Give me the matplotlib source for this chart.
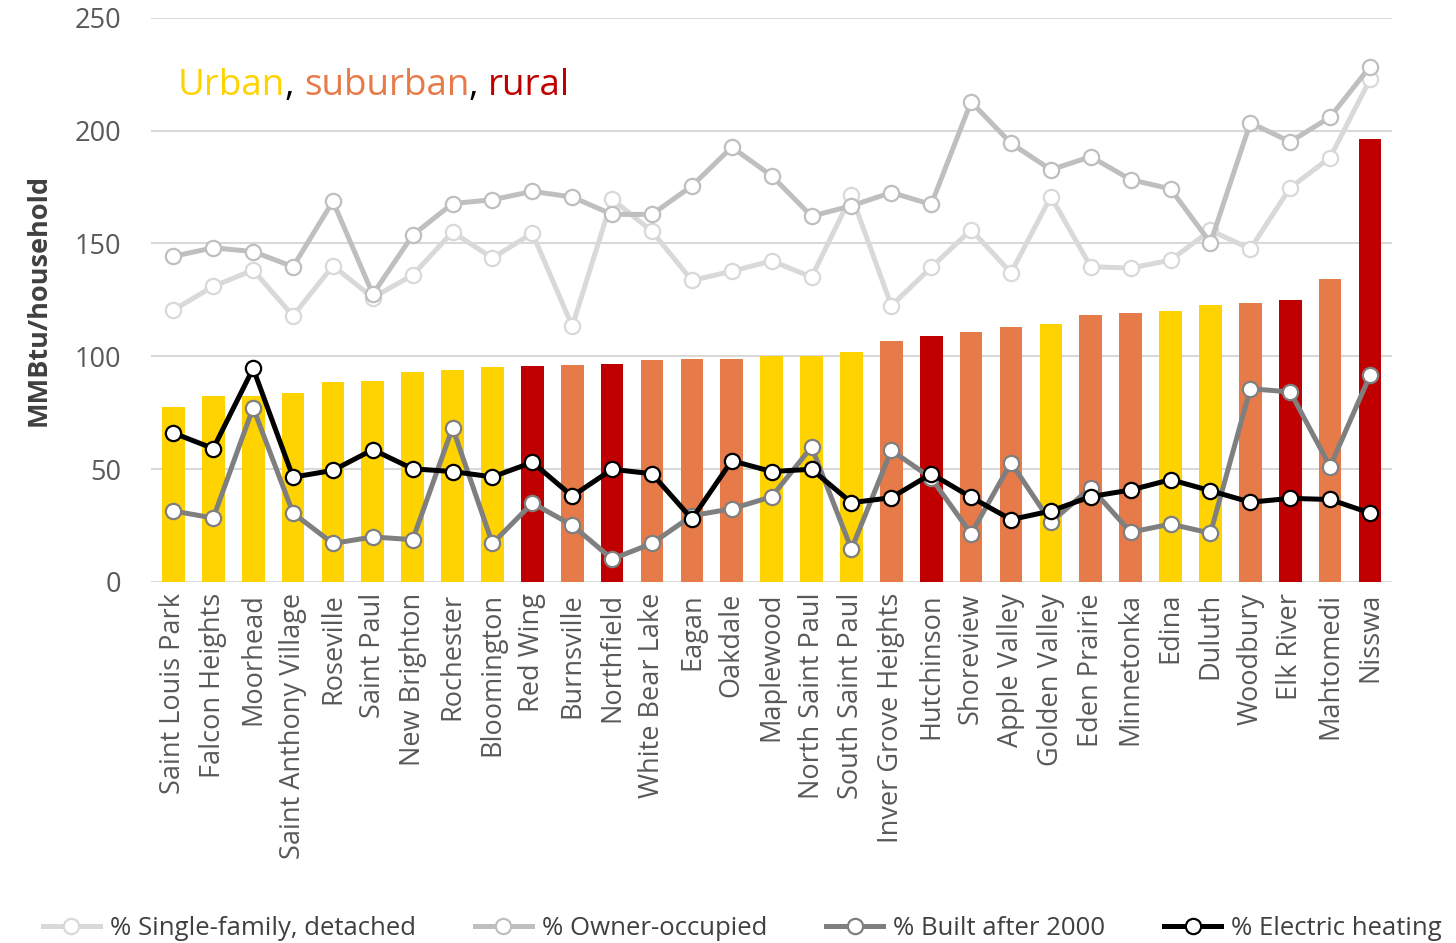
import matplotlib.pyplot as plt
import numpy as np

cities = ["Saint Louis Park", "Falcon Heights", "Moorhead", "Saint Anthony Village",
          "Roseville", "Saint Paul", "New Brighton", "Rochester", "Bloomington",
          "Red Wing", "Burnsville", "Northfield", "White Bear Lake", "Eagan", "Oakdale",
          "Maplewood", "North Saint Paul", "South Saint Paul", "Inver Grove Heights",
          "Hutchinson", "Shoreview", "Apple Valley", "Golden Valley", "Eden Prairie",
          "Minnetonka", "Edina", "Duluth", "Woodbury", "Elk River", "Mahtomedi", "Nisswa"]

# U = urban, S = suburban, R = rural
area_type = ["U", "U", "U", "U", "U", "U", "U", "U", "U", "R", "S", "R", "S", "S", "S",
             "U", "U", "U", "S", "R", "S", "S", "U", "S", "S", "U", "U", "S", "R", "S", "R"]

energy = [77.7, 82.3, 82.6, 83.7, 88.4, 89.1, 92.9, 94.1, 95.1, 95.9, 96.0, 96.5, 98.2,
          99.0, 99.0, 100.2, 100.2, 101.9, 106.7, 109.2, 110.6, 112.8, 114.5, 118.3,
          119.1, 120.1, 122.9, 123.6, 124.9, 134.3, 196.1]

single_family = [120.5, 131.0, 138.2, 117.9, 140.1, 126.0, 136.0, 155.1, 143.5, 154.6,
                 113.3, 169.6, 155.4, 133.6, 137.7, 142.3, 135.1, 171.3, 122.4, 139.4,
                 156.1, 137.0, 170.8, 139.7, 139.1, 142.6, 155.8, 147.6, 174.7, 188.1, 222.7]

owner_occupied = [144.3, 148.1, 146.4, 139.7, 168.7, 127.5, 153.7, 167.7, 169.4, 173.1,
                  170.6, 162.9, 162.9, 175.5, 192.7, 180.0, 162.1, 166.7, 172.6, 167.3,
                  212.8, 194.4, 182.7, 188.5, 178.3, 174.2, 150.3, 203.5, 195.1, 206.0, 228.4]

built_after_2000 = [31.4, 28.3, 77.2, 30.5, 17.0, 19.9, 18.7, 68.3, 17.0, 34.9, 25.1, 10.1,
                    17.0, 29.3, 32.4, 37.7, 59.8, 14.5, 58.3, 46.0, 21.3, 52.8, 26.4, 41.8,
                    22.0, 25.6, 21.6, 85.6, 84.2, 51.1, 91.5]

electric_heating = [66.0, 59.1, 94.6, 46.4, 49.4, 58.6, 50.1, 48.9, 46.5, 53.0, 38.0, 49.9,
                    47.9, 27.9, 53.7, 48.9, 49.9, 35.1, 37.3, 47.9, 37.5, 27.6, 31.4, 37.8,
                    40.7, 45.3, 40.4, 35.3, 37.0, 36.5, 30.5]

type_colors = {"U": "#FFD300", "S": "#E67A48", "R": "#C00000"}

plt.rcParams['font.family'] = ['Open Sans', 'DejaVu Sans']

fig = plt.figure(figsize=(14.56, 9.43), dpi=100)
ax = fig.add_axes([0.104, 0.383, 0.852, 0.598])

x = np.arange(len(cities))
ax.bar(x, energy, width=0.57, color=[type_colors[t] for t in area_type], zorder=2)

series = [
    (single_family, "#D9D9D9", "% Single-family, detached"),
    (owner_occupied, "#BFBFBF", "% Owner-occupied"),
    (built_after_2000, "#7F7F7F", "% Built after 2000"),
    (electric_heating, "#000000", "% Electric heating"),
]
for i, (vals, col, lab) in enumerate(series):
    ax.plot(x, vals, color=col, lw=3.6, marker="o", markersize=11,
            markerfacecolor="white", markeredgecolor=col, markeredgewidth=1.6,
            label=lab, zorder=3 + i)

ax.set_ylim(0, 250)
ax.set_xlim(-0.55, len(cities) - 0.45)
ax.set_yticks(range(0, 251, 50))
ax.yaxis.grid(True, color="#D9D9D9", lw=1.5, zorder=0)
ax.set_axisbelow(True)
for s in ax.spines.values():
    s.set_visible(False)
ax.tick_params(length=0, labelsize=19.5, colors="#595959", pad=8)
ax.tick_params(axis="y", pad=22)
ax.set_xticks(x)
ax.set_xticklabels(cities, rotation=90)
ax.set_ylabel("MMBtu/household", fontsize=19.5, fontweight="bold", color="#404040",
              labelpad=16)

# coloured title built from pieces
rend = fig.canvas.get_renderer()
parts = [("Urban", type_colors["U"]), (", ", "#000000"), ("suburban", type_colors["S"]),
         (", ", "#000000"), ("rural", type_colors["R"])]
xpos = 0.021
for txt, col in parts:
    tt = ax.text(xpos, 0.88, txt, color=col, fontsize=26.5, transform=ax.transAxes,
                 va="center")
    bb = tt.get_window_extent(renderer=rend)
    xpos += bb.width / ax.bbox.width

fig.legend(loc="lower center", ncol=4, bbox_to_anchor=(0.51, -0.022), frameon=False,
           fontsize=18.5, labelcolor="#404040", handlelength=2.2, columnspacing=2.3,
           handletextpad=0.4)

fig.savefig("out.png", dpi=100)
